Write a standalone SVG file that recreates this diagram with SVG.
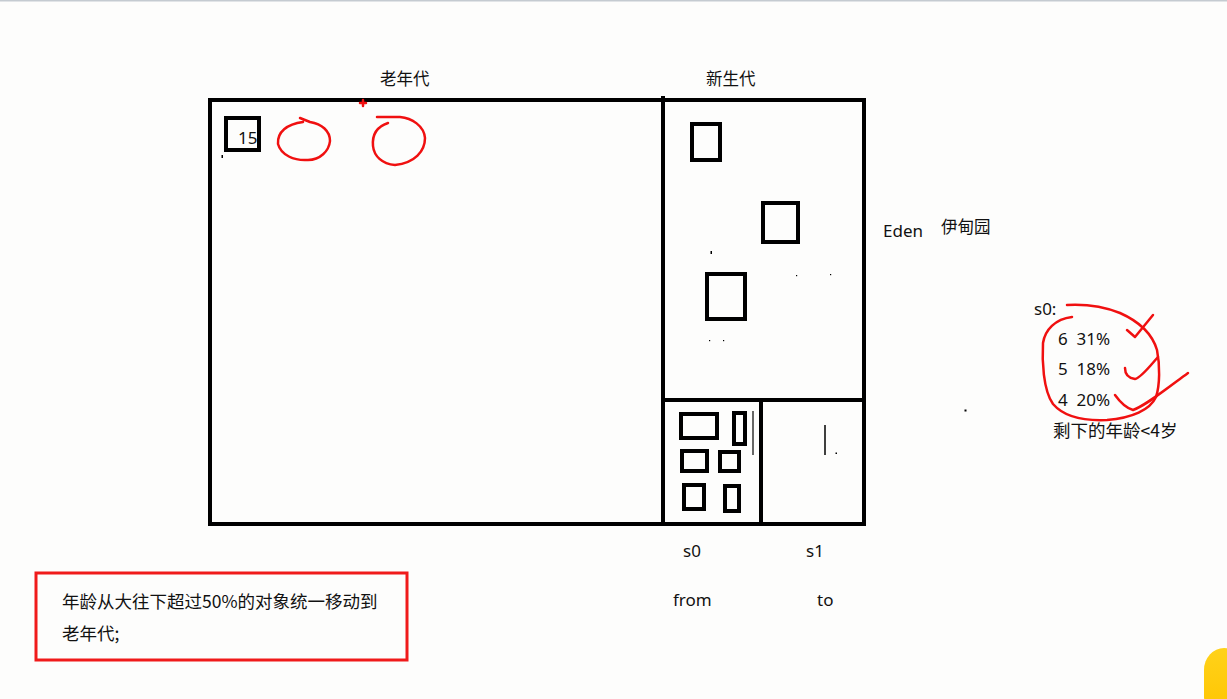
<svg xmlns="http://www.w3.org/2000/svg" width="1227" height="699" viewBox="0 0 1227 699">
<defs>
<style>
.wall{fill:none;stroke:#000;stroke-width:4}
.obj{fill:none;stroke:#000;stroke-width:4}
.ink{fill:none;stroke:#f01010;stroke-width:2.5;stroke-linecap:round;stroke-linejoin:round}
.t{font-family:"Noto Sans","Noto Sans CJK SC",sans-serif;font-size:17px;fill:#111}
.cn{font-family:"Noto Sans CJK SC","Noto Sans",sans-serif;font-size:16.5px;fill:#111}
.cnl{font-family:"Noto Sans CJK SC","Noto Sans",sans-serif;font-size:17.5px;fill:#111}
.dot{fill:#000}
</style>
<linearGradient id="yel" x1="0" y1="0" x2="0" y2="1">
<stop offset="0" stop-color="#ffd21a"/>
<stop offset="1" stop-color="#ffc400"/>
</linearGradient>
</defs>
<rect x="0" y="0" width="1227" height="699" fill="#fdfdfc"/>
<rect x="0" y="0" width="1227" height="1.5" fill="#c5cbd1"/>

<g id="heap">
<rect class="wall" x="210" y="100" width="654" height="424"/>
<line class="wall" x1="663" y1="96" x2="663" y2="526"/>
<line class="wall" x1="663" y1="400" x2="864" y2="400"/>
<line class="wall" x1="761" y1="400" x2="761" y2="526"/>
</g>

<g id="old-gen">
<text class="cn" x="380" y="85">老年代</text>
<rect class="obj" x="226" y="118" width="33" height="32"/>
<text class="t" x="238" y="144">15</text>
<path class="ink" d="M300,118 L310,122 C322,124 330,131 330,141 C329,151 320,160 308,160 C294,161 281,155 278,144 C277,132 287,124 303,122"/>
<path class="ink" d="M377,117 L400,117 C412,118 424,126 425,138 C425,151 415,163 395,165 C382,164 374,156 373,146 C372,135 376,127 388,123"/>
<path class="ink" d="M360,103 L366,103 M363,100 L363,106" stroke-width="2"/>
<rect class="dot" x="221.5" y="155" width="1.5" height="3"/>
</g>

<g id="young-gen">
<text class="cn" x="706" y="85">新生代</text>
</g>

<g id="eden">
<rect class="obj" x="692" y="124" width="28" height="36"/>
<rect class="obj" x="763" y="203" width="35" height="39"/>
<rect class="obj" x="707" y="274" width="38" height="45"/>
<text class="t" x="883" y="237">Eden</text>
<text class="cn" x="941" y="233">伊甸园</text>
<rect class="dot" x="710.5" y="251" width="1.5" height="3"/>
<rect class="dot" x="796" y="275" width="1.2" height="1.2"/>
<rect class="dot" x="830" y="274" width="1.2" height="1.2"/>
<rect class="dot" x="709" y="340" width="1.2" height="1.2"/>
<rect class="dot" x="723" y="340" width="1.2" height="1.2"/>
</g>

<g id="s0">
<rect class="obj" x="681" y="414" width="36" height="24"/>
<rect class="obj" x="734" y="413" width="11" height="31"/>
<line x1="753" y1="411" x2="753" y2="455" stroke="#333" stroke-width="1.5"/>
<rect class="obj" x="682" y="451" width="25" height="20"/>
<rect class="obj" x="720" y="452" width="19" height="19"/>
<rect class="obj" x="684" y="485" width="20" height="24"/>
<rect class="obj" x="725" y="486" width="14" height="25"/>
<text class="t" x="683" y="557">s0</text>
<text class="t" x="673" y="606">from</text>
</g>

<g id="s1">
<line x1="825" y1="425" x2="825" y2="455" stroke="#000" stroke-width="1.5"/>
<rect class="dot" x="835.5" y="452.5" width="1.5" height="1.5"/>
<text class="t" x="806" y="557">s1</text>
<text class="t" x="817" y="606">to</text>
</g>

<g id="s0-ages">
<text class="t" x="1034" y="315">s0:</text>
<text class="t" x="1058" y="345" font-size="17.5" xml:space="preserve">6  31%</text>
<text class="t" x="1058" y="375" font-size="17.5" xml:space="preserve">5  18%</text>
<text class="t" x="1058" y="406" font-size="17.5" xml:space="preserve">4  20%</text>
<text class="cnl" x="1053" y="437">剩下的年龄&lt;4岁</text>
<path class="ink" d="M1067,305 C1085,304 1105,307 1120,313 C1138,321 1152,333 1157,350 C1160,365 1160,385 1156,397 C1150,410 1132,418 1107,420 C1085,421 1065,418 1053,404 C1043,390 1042,360 1043,343 C1045,330 1055,319 1072,317"/>
<path class="ink" d="M1127,330 L1135,337 L1153,315"/>
<path class="ink" d="M1125,368 C1125,374 1128,378 1135,379 C1141,378 1150,366 1158,357"/>
<path class="ink" d="M1115,395 C1120,402 1126,408 1133,410 C1145,406 1165,390 1188,373"/>
<rect class="dot" x="964.5" y="409.5" width="2" height="2"/>
</g>

<g id="note">
<rect x="36" y="573" width="371" height="87" fill="none" stroke="#f01a1a" stroke-width="3"/>
<text class="cnl" x="62" y="608">年龄从大往下超过50%的对象统一移动到</text>
<text class="cnl" x="62" y="640">老年代;</text>
</g>

<rect x="1204" y="648" width="40" height="70" rx="22" fill="url(#yel)"/>
</svg>
